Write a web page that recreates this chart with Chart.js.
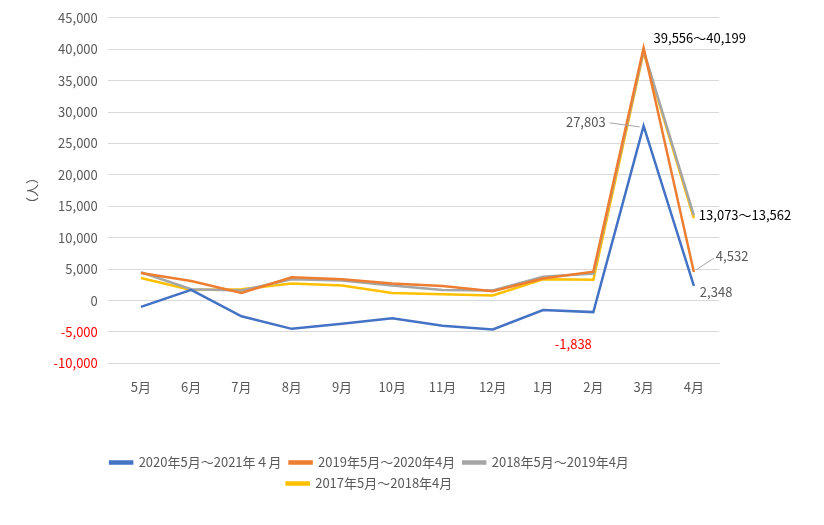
<!DOCTYPE html>
<html><head><meta charset="utf-8">
<script src="https://cdn.jsdelivr.net/npm/chart.js@4/dist/chart.umd.min.js"></script>
<style>html,body{margin:0;background:#fff}#w{width:824px;height:525px;position:relative}</style>
</head><body><div id="w"><canvas id="c"></canvas></div>
<script>
const months = ['5月','6月','7月','8月','9月','10月','11月','12月','1月','2月','3月','4月'];
const s2020 = [-1000,1700,-2500,-4500,-3700,-2800,-4000,-4600,-1500,-1838,27803,2348];
const s2019 = [4400,3100,1200,3700,3400,2700,2300,1500,3500,4600,40199,4532];
const s2018 = [4500,1800,1600,3400,3200,2400,1700,1600,3800,4300,39800,13562];
const s2017 = [3600,1700,1800,2700,2400,1200,1000,800,3400,3300,39556,13073];
const names = ['2020年5月～2021年４月','2019年5月～2020年4月','2018年5月～2019年4月','2017年5月～2018年4月'];
const colors = ['#4472C4','#ED7D31','#A5A5A5','#FFC000'];
const F = "'Noto Sans CJK JP','Noto Sans',sans-serif";
const ann = {
  id:'ann',
  afterDatasetsDraw(ch){
    const c=ch.ctx,x=ch.scales.x,y=ch.scales.y;
    c.save();c.font='13px '+F;c.textBaseline='middle';
    const t=(s,px,py,col,al)=>{c.fillStyle=col;c.textAlign=al||'left';c.fillText(s,px,py);};
    const ln=(a,b,d,e)=>{c.strokeStyle='#A5A5A5';c.lineWidth=1;c.beginPath();c.moveTo(a,b);c.lineTo(d,e);c.stroke();};
    const m=x.getPixelForValue(10),a=x.getPixelForValue(11);
    t('39,556～40,199',m+10,y.getPixelForValue(40199)-10,'#000','left');
    const py=y.getPixelForValue(27803);
    ln(m-34,py-3,m-4,py+1);t('27,803',m-38,py-4,'#595959','right');
    t('13,073～13,562',a+5,y.getPixelForValue(13073)-3,'#000');
    const p4=y.getPixelForValue(4532);
    ln(a+2,p4-2,a+20,p4-14);t('4,532',a+22,p4-16,'#595959');
    t('2,348',a+6,y.getPixelForValue(2348)+6,'#595959');
    t('-1,838',x.getPixelForValue(9)-20,y.getPixelForValue(-1838)+32,'#FF0000','center');
    c.restore();
  }
};
new Chart(document.getElementById('c'),{
  type:'line',
  data:{labels:months,datasets:[s2020,s2019,s2018,s2017].map((d,i)=>({label:names[i],data:d,borderColor:colors[i],backgroundColor:colors[i],borderWidth:2.5,pointRadius:0,tension:0,order:i===0?-1:i}))},
  options:{responsive:true,maintainAspectRatio:false,animation:false,
    layout:{padding:{left:20,right:105,top:10,bottom:25}},
    plugins:{legend:{position:'bottom',labels:{boxWidth:22,boxHeight:2,font:{family:F,size:13},color:'#595959',padding:8}},tooltip:{enabled:false}},
    scales:{
      x:{offset:true,grid:{display:false},border:{color:'#D9D9D9'},ticks:{font:{family:F,size:13},color:'#595959',padding:8},
        afterFit:s=>{s.height+=45;}},
      y:{min:-10000,max:45000,grid:{color:'#D9D9D9'},border:{display:false},
        title:{display:true,text:'（人）',font:{family:F,size:13},color:'#595959'},
        ticks:{stepSize:5000,font:{family:F,size:13},padding:10,
          color:c=>c.tick&&c.tick.value<0?'#FF0000':'#595959',
          callback:v=>v.toLocaleString('en-US')}}
    }},
  plugins:[ann]
});
</script></body></html>
